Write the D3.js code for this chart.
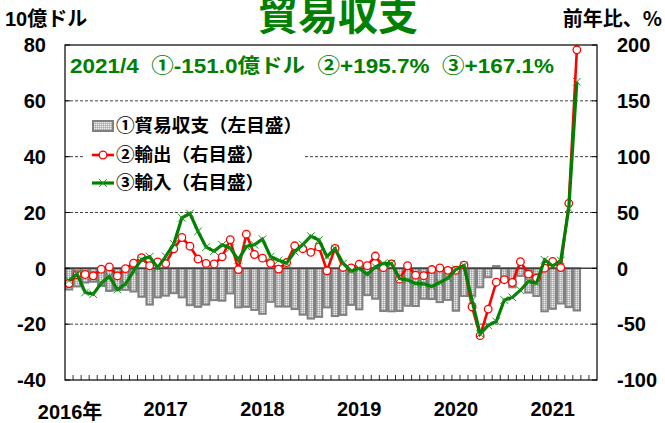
<!DOCTYPE html>
<html>
<head>
<meta charset="utf-8">
<script src="https://cdn.jsdelivr.net/npm/d3@7"></script>
<style>
  body { margin: 0; background: #fff; }
  svg { display: block; }
</style>
</head>
<body>
<div id="chart"></div>
<script>
// Trade balance, 10億ドル (2016/1 - 2021/4)
const balance = [
  -7.6, -6.5, -5.1, -4.8, -6.3, -8.1, -7.8, -7.7, -8.3, -10.2, -13.0, -10.4,
  -9.8, -8.9, -10.4, -13.2, -13.8, -13.0, -11.4, -11.6, -9.0, -14.0, -13.8, -14.9,
  -16.3, -12.0, -13.7, -13.7, -14.6, -16.6, -18.0, -17.4, -14.0, -17.1, -16.7, -13.1,
  -14.7, -9.6, -10.9, -15.3, -15.4, -15.3, -13.4, -13.5, -10.9, -11.0, -12.1, -11.3,
  -15.2, -9.9, -9.8, -6.8, -3.2, 0.8, -4.8, -6.8, -2.7, -8.7, -9.9, -15.4,
  -14.5, -12.6, -13.9, -15.1
];
// Exports, % y/y
const exportsYoY = [
  -13.6, -5.7, -5.5, -6.7, -0.8, 1.3, -6.8, -0.3, 4.6, 9.6, 2.3, 5.7,
  4.3, 17.5, 27.6, 19.8, 8.3, 4.4, 3.9, 10.3, 25.7, -1.1, 30.6, 12.4,
  9.1, 4.5, -0.7, 5.2, 20.2, 17.6, 14.3, 19.2, -2.2, 17.9, 0.8, 0.3,
  3.7, 2.4, 11.0, 0.6, 3.9, -9.7, 2.3, -6.1, -6.6, -1.1, 0.3, -1.8,
  -1.7, 2.9, -34.6, -60.3, -36.5, -12.4, -10.2, -12.7, 6.0, -5.1, -8.7, 0.1,
  6.2, 0.7, 58.2, 195.7
];
// Imports, % y/y
const importsYoY = [
  -11.0, -5.0, -21.6, -23.1, -13.2, -7.3, -19.0, -14.1, -2.5, 8.1, 10.4, 0.5,
  10.7, 21.8, 45.3, 49.1, 33.1, 19.0, 15.4, 21.0, 18.1, 7.6, 19.6, 21.1,
  26.1, 10.4, 7.2, 4.6, 14.9, 21.3, 28.8, 25.4, 10.5, 17.6, 4.3, -2.4,
  0.0, -5.4, 1.4, 4.5, 4.3, -9.1, -10.4, -13.5, -13.9, -16.3, -12.7, -8.8,
  -0.8, 2.5, -28.7, -58.7, -51.0, -47.6, -28.4, -26.0, -19.6, -11.6, -13.3, 7.6,
  2.0, 7.0, 53.7, 167.1
];
const yearLabels = ["2016年", "2017", "2018", "2019", "2020", "2021"];
const leftTicks = [80, 60, 40, 20, 0, -20, -40];
const rightTicks = [200, 150, 100, 50, 0, -50, -100];
const gridTicks = [60, 40, 20, -20];
const legendLabels = ["①貿易収支（左目盛）", "②輸出（右目盛）", "③輸入（右目盛）"];
const note = "2021/4  ①-151.0億ドル  ②+195.7%  ③+167.1%";

// 66 month slots: 2016/1 .. 2021/6 (last two empty)
const months = d3.range(66).map(i => `${2016 + Math.floor(i / 12)}/${i % 12 + 1}`);

const width = 665, height = 423;
const plot = { left: 65, right: 597, top: 45, bottom: 380 };
const green = "#008000";
const numFont = "'Liberation Sans', Arial, sans-serif";
const jpFont = "'Noto Sans CJK JP', 'Noto Sans', sans-serif";

const x = d3.scaleBand().domain(months)
  .range([plot.left, plot.right]).paddingInner(0.2).paddingOuter(0.1);
const cx = i => x(months[i]) + x.bandwidth() / 2;
const yL = d3.scaleLinear().domain([-40, 80]).range([plot.bottom, plot.top]);
const yR = d3.scaleLinear().domain([-100, 200]).range([plot.bottom, plot.top]);

const svg = d3.select("#chart").append("svg")
  .attr("width", width).attr("height", height);

// dotted fill for the bars
const defs = svg.append("defs");
const pat = defs.append("pattern").attr("id", "dots")
  .attr("width", 2).attr("height", 2).attr("patternUnits", "userSpaceOnUse");
pat.append("rect").attr("width", 2).attr("height", 2).attr("fill", "#c4c4c4");
pat.append("rect").attr("width", 1).attr("height", 1).attr("fill", "#eeeeee");
pat.append("rect").attr("x", 1).attr("y", 1).attr("width", 1).attr("height", 1).attr("fill", "#a8a8a8");

// gridlines
svg.append("g").selectAll("line").data(gridTicks).join("line")
  .attr("x1", plot.left).attr("x2", plot.right)
  .attr("y1", d => yL(d)).attr("y2", d => yL(d))
  .attr("stroke", "#444").attr("stroke-width", 1).attr("stroke-dasharray", "3,2");

// bars
svg.append("g").selectAll("rect").data(balance).join("rect")
  .attr("x", (d, i) => x(months[i]))
  .attr("width", x.bandwidth())
  .attr("y", d => yL(Math.max(0, d)))
  .attr("height", d => Math.abs(yL(d) - yL(0)))
  .attr("fill", "url(#dots)")
  .attr("stroke", "#808080").attr("stroke-width", 2);

// zero line
svg.append("line")
  .attr("x1", plot.left).attr("x2", plot.right)
  .attr("y1", yL(0)).attr("y2", yL(0))
  .attr("stroke", "#404040").attr("stroke-width", 1.5);

// legend background
svg.append("rect").attr("x", 83).attr("y", 108).attr("width", 222).attr("height", 92).attr("fill", "#fff");

// exports line
const lineR = d3.line().x((d, i) => cx(i)).y(d => yR(d));
svg.append("path").datum(exportsYoY).attr("d", lineR)
  .attr("fill", "none").attr("stroke", "#ff0000").attr("stroke-width", 2.6);
svg.append("g").selectAll("circle").data(exportsYoY).join("circle")
  .attr("cx", (d, i) => cx(i)).attr("cy", d => yR(d)).attr("r", 3.8)
  .attr("fill", "#fff").attr("stroke", "#ff0000").attr("stroke-width", 1.3);

// imports line
svg.append("path").datum(importsYoY).attr("d", lineR)
  .attr("fill", "none").attr("stroke", green).attr("stroke-width", 3.2);
const cross = d3.symbol().type(d3.symbolX).size(40);
svg.append("g").selectAll("path").data(importsYoY).join("path")
  .attr("transform", (d, i) => `translate(${cx(i)},${yR(d)})`)
  .attr("d", cross)
  .attr("fill", "none").attr("stroke", "#1f8f1f").attr("stroke-width", 1);

// frame
svg.append("rect")
  .attr("x", plot.left).attr("y", plot.top)
  .attr("width", plot.right - plot.left).attr("height", plot.bottom - plot.top)
  .attr("fill", "none").attr("stroke", "#000").attr("stroke-width", 1.2);

// inward y ticks on both sides
const yt = svg.append("g").attr("stroke", "#000").attr("stroke-width", 1);
leftTicks.forEach(v => {
  yt.append("line").attr("x1", plot.left).attr("x2", plot.left + 5).attr("y1", yL(v)).attr("y2", yL(v));
  yt.append("line").attr("x1", plot.right - 5).attr("x2", plot.right).attr("y1", yL(v)).attr("y2", yL(v));
});
// x ticks at month boundaries
svg.append("g").selectAll("line").data(d3.range(1, 66)).join("line")
  .attr("x1", i => x(months[i]) - x.step() * x.paddingInner() / 2)
  .attr("x2", i => x(months[i]) - x.step() * x.paddingInner() / 2)
  .attr("y1", plot.bottom).attr("y2", plot.bottom - 5)
  .attr("stroke", "#000").attr("stroke-width", 0.8);

// left axis labels
svg.append("g").selectAll("text").data(leftTicks).join("text")
  .attr("x", 46).attr("y", d => yL(d)).attr("dy", "0.36em")
  .attr("text-anchor", "end")
  .attr("font-family", numFont).attr("font-weight", "bold").attr("font-size", 20)
  .text(d => d < 0 ? "-" + Math.abs(d) : d);
// right axis labels
svg.append("g").selectAll("text").data(rightTicks).join("text")
  .attr("x", 617).attr("y", d => yR(d)).attr("dy", "0.36em")
  .attr("font-family", numFont).attr("font-weight", "bold").attr("font-size", 20)
  .text(d => d < 0 ? "-" + Math.abs(d) : d);

// year labels (at January)
svg.append("g").selectAll("text").data(yearLabels).join("text")
  .attr("x", (d, i) => cx(i * 12) + (i === 0 ? 1 : 0))
  .attr("y", (d, i) => i === 0 ? 419 : 416)
  .attr("text-anchor", "middle")
  .attr("font-family", `${numFont}, ${jpFont}`).attr("font-weight", "bold").attr("font-size", 20)
  .text(d => d);

// unit labels
svg.append("text").attr("x", 5).attr("y", 26)
  .attr("font-family", `${numFont}, ${jpFont}`).attr("font-weight", "bold").attr("font-size", 20)
  .text("10億ドル");
svg.append("text").attr("x", 662).attr("y", 26).attr("text-anchor", "end")
  .attr("font-family", jpFont).attr("font-weight", "bold").attr("font-size", 20)
  .text("前年比、%");

// title (top slightly clipped, as in the original)
svg.append("text").attr("x", 338).attr("y", 30).attr("text-anchor", "middle")
  .attr("font-family", jpFont).attr("font-weight", "bold").attr("font-size", 40)
  .attr("fill", green).text("貿易収支");

// note
svg.append("text").attr("x", 70).attr("y", 73)
  .attr("font-family", `${numFont}, ${jpFont}`).attr("font-weight", "bold").attr("font-size", 20)
  .attr("fill", green).style("white-space", "pre")
  .attr("textLength", 484).attr("lengthAdjust", "spacingAndGlyphs")
  .text(note);

// legend
const lg = svg.append("g").attr("font-family", jpFont).attr("font-weight", "bold").attr("font-size", 18);
const rowY = [126, 155, 183];
lg.append("rect").attr("x", 93).attr("y", rowY[0] - 5).attr("width", 20).attr("height", 10)
  .attr("fill", "url(#dots)").attr("stroke", "#808080").attr("stroke-width", 2);
lg.append("line").attr("x1", 92).attr("x2", 114).attr("y1", rowY[1]).attr("y2", rowY[1])
  .attr("stroke", "#ff0000").attr("stroke-width", 2.6);
lg.append("circle").attr("cx", 103).attr("cy", rowY[1]).attr("r", 3.8)
  .attr("fill", "#fff").attr("stroke", "#ff0000").attr("stroke-width", 1.3);
lg.append("line").attr("x1", 92).attr("x2", 114).attr("y1", rowY[2]).attr("y2", rowY[2])
  .attr("stroke", green).attr("stroke-width", 3.2);
lg.append("path").attr("transform", `translate(103,${rowY[2]})`).attr("d", cross)
  .attr("fill", "none").attr("stroke", "#1f8f1f").attr("stroke-width", 1);
lg.selectAll("text").data(legendLabels).join("text")
  .attr("x", 116).attr("y", (d, i) => rowY[i]).attr("dy", "0.36em")
  .attr("textLength", (d, i) => [186, 148, 148][i]).attr("lengthAdjust", "spacingAndGlyphs")
  .text(d => d);
</script>
</body>
</html>
